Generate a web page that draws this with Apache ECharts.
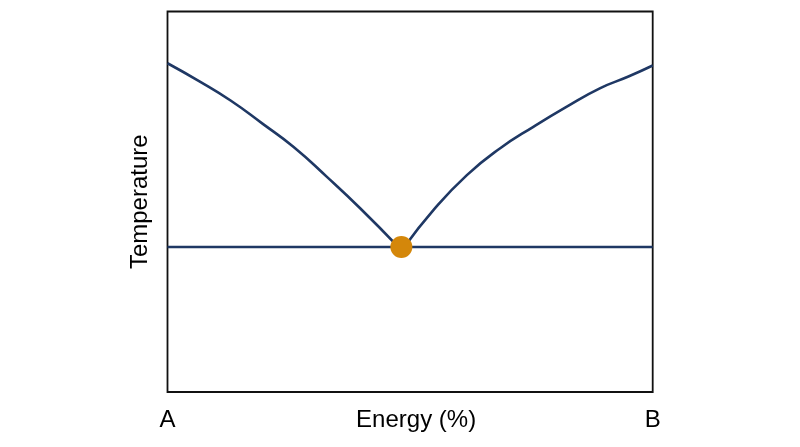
<!DOCTYPE html>
<html>
<head>
<meta charset="utf-8">
<script src="https://cdn.jsdelivr.net/npm/echarts@6/dist/echarts.min.js"></script>
<style>
html,body{margin:0;padding:0;background:#fff;}
#chart{width:800px;height:447px;}
</style>
</head>
<body>
<div id="chart"></div>
<script>
// Data (x: 0 = A, 100 = B; y: temperature, arbitrary units 0..100)
var xTickLabels = ['A', 'B'];
var leftCurveX  = [0, 6.5, 13.0, 19.5, 26.0, 32.8, 39.7, 47.6];
var leftCurveY  = [86.4, 81.7, 76.6, 70.6, 64.4, 56.6, 48.3, 38.1];
var rightCurveX = [48.8, 54.8, 61.7, 68.5, 75.4, 82.3, 89.1, 95.0, 100];
var rightCurveY = [38.1, 47.8, 57.0, 64.0, 69.7, 75.0, 79.8, 82.9, 85.8];
var eutecticX = [0, 100];
var eutecticY = [38.1, 38.1];
var pointX = [48.2];
var pointY = [38.1];

function zip(xs, ys) { return xs.map(function (x, i) { return [x, ys[i]]; }); }

var navy = '#1f3864';
var font = 'Liberation Sans, Arial, sans-serif';
var chart = echarts.init(document.getElementById('chart'), null, {renderer: 'canvas'});
chart.setOption({
  animation: false,
  backgroundColor: '#fff',
  grid: {
    left: 167.5, right: 147.3, top: 11.5, bottom: 55,
    outerBoundsMode: 'none', containLabel: false,
    show: true, borderColor: '#111', borderWidth: 1.8, backgroundColor: 'transparent'
  },
  xAxis: {
    type: 'value', min: 0, max: 100, interval: 100,
    axisLine: {show: false}, axisTick: {show: false}, splitLine: {show: false},
    axisLabel: {
      margin: 16, color: '#000', fontSize: 24, fontFamily: font,
      formatter: function (v) { return v === 0 ? xTickLabels[0] : (v === 100 ? xTickLabels[1] : ''); }
    },
    name: 'Energy (%)', nameLocation: 'middle', nameGap: 16, nameMoveOverlap: false,
    nameTextStyle: {color: '#000', fontSize: 24, fontFamily: font, padding: [0, 0, 0, 12], verticalAlign: 'top'}
  },
  yAxis: {
    type: 'value', min: 0, max: 100,
    axisLine: {show: false}, axisTick: {show: false}, splitLine: {show: false}, axisLabel: {show: false},
    name: 'Temperature', nameLocation: 'middle', nameGap: 15, nameMoveOverlap: false,
    nameTextStyle: {color: '#000', fontSize: 24, fontFamily: font}
  },
  series: [
    {type: 'line', data: zip(leftCurveX, leftCurveY), smooth: 0.5, showSymbol: false,
     lineStyle: {color: navy, width: 2.6}, z: 2},
    {type: 'line', data: zip(rightCurveX, rightCurveY), smooth: 0.5, showSymbol: false,
     lineStyle: {color: navy, width: 2.6}, z: 2},
    {type: 'line', data: zip(eutecticX, eutecticY), showSymbol: false,
     lineStyle: {color: navy, width: 2.6}, z: 2},
    {type: 'scatter', data: zip(pointX, pointY), symbolSize: 22,
     itemStyle: {color: '#d4870a', opacity: 1}, z: 5}
  ]
});
</script>
</body>
</html>
